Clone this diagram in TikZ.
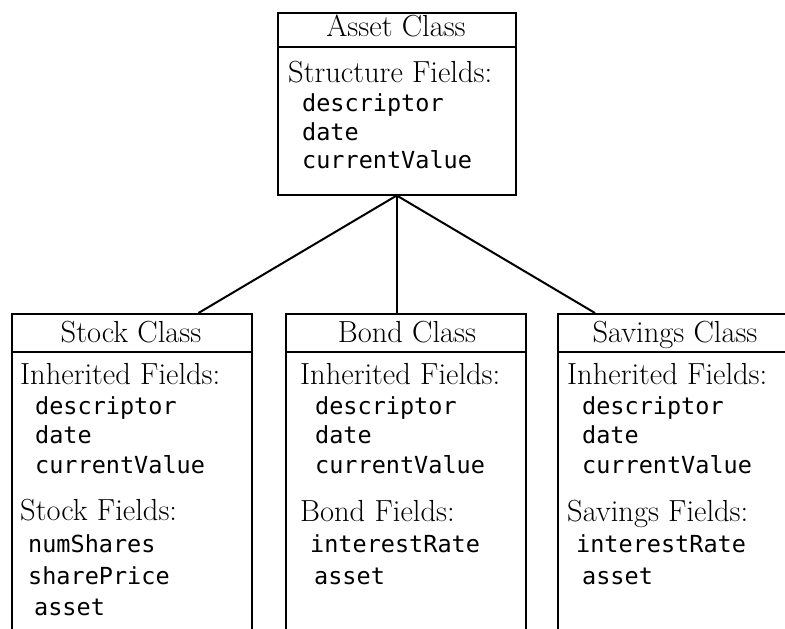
\documentclass[tikz,border=0pt]{standalone}
\usepackage{fontspec}
\setmonofont{DejaVu Sans Mono}
\begin{document}
\begin{tikzpicture}[x=1pt,y=-1pt,
  box/.style={draw, line width=1.5pt, inner sep=0pt, anchor=north west, minimum width=240pt},
  divider/.style={line width=1.5pt},
  link/.style={line width=2pt},
  ser/.style={anchor=base west, inner sep=0pt, font=\fontsize{30.5}{32}\selectfont},
  head/.style={anchor=base, inner sep=0pt, font=\fontsize{30.5}{32}\selectfont},
  mono/.style={anchor=base west, inner sep=0pt, font=\fontsize{23.5}{25}\selectfont\ttfamily}]
\useasboundingbox (0,0) rectangle (785,629);
% boxes
\node[box, minimum width=238pt, minimum height=182pt] (asset) at (277,12) {};
\node[box, minimum height=340pt] (stock) at (11,313) {};
\node[box, minimum height=340pt] (bond) at (285,313) {};
\node[box, minimum height=340pt] (savings) at (557,313) {};
% header dividers
\draw[divider] ([yshift=-35pt]asset.north west) -- ([yshift=-35pt]asset.north east);
\draw[divider] ([yshift=-39pt]stock.north west) -- ([yshift=-39pt]stock.north east);
\draw[divider] ([yshift=-39pt]bond.north west) -- ([yshift=-39pt]bond.north east);
\draw[divider] ([yshift=-39pt]savings.north west) -- ([yshift=-39pt]savings.north east);
% connectors
\draw[link] (asset.south) -- ([xshift=-54pt]stock.north east);
\draw[divider] (asset.south) -- (asset.south |- bond.north);
\draw[link] (asset.south) -- ([xshift=38pt]savings.north west);
% top box text
\node[head] (assettitle) at (396,36) {Asset Class};
\node[ser] (assetsf) at (288,82) {Structure Fields:};
\node[mono] (assetd1) at (302,111) {descriptor};
\node[mono] (assetd2) at (302,140) {date};
\node[mono] (assetd3) at (302,168) {currentValue};
% stock box
\node[head] (stocktitle) at (131,342) {Stock Class};
\node[ser] (stockif) at (20,384) {Inherited Fields:};
\node[mono] (stocki1) at (35,414) {descriptor};
\node[mono] (stocki2) at (35,443) {date};
\node[mono] (stocki3) at (35,473) {currentValue};
\node[ser] (stocksf) at (20,520) {Stock Fields:};
\node[mono] (stocks1) at (28,552) {numShares};
\node[mono] (stocks2) at (28,584) {sharePrice};
\node[mono] (stocks3) at (34,615) {asset};
% bond box
\node[head] (bondtitle) at (407,342) {Bond Class};
\node[ser] (bondif) at (300,384) {Inherited Fields:};
\node[mono] (bondi1) at (315,414) {descriptor};
\node[mono] (bondi2) at (315,443) {date};
\node[mono] (bondi3) at (315,473) {currentValue};
\node[ser] (bondbf) at (300,521) {Bond Fields:};
\node[mono] (bondb1) at (310,552) {interestRate};
\node[mono] (bondb2) at (314,584) {asset};
% savings box
\node[head] (savtitle) at (675,342) {Savings Class};
\node[ser] (savif) at (567,384) {Inherited Fields:};
\node[mono] (savi1) at (582,414) {descriptor};
\node[mono] (savi2) at (582,443) {date};
\node[mono] (savi3) at (582,473) {currentValue};
\node[ser] (savsf) at (567,521) {Savings Fields:};
\node[mono] (savs1) at (576,552) {interestRate};
\node[mono] (savs2) at (582,584) {asset};
\end{tikzpicture}
\end{document}
